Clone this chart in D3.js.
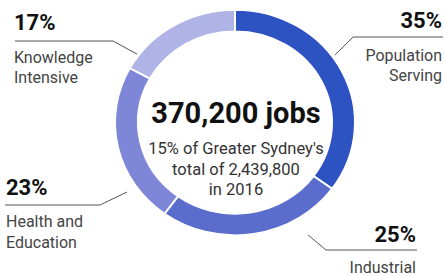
<!DOCTYPE html>
<html>
<head>
<meta charset="utf-8">
<script src="https://cdn.jsdelivr.net/npm/d3@7"></script>
<style>
html,body{margin:0;padding:0;background:#fff;}
svg{display:block;font-family:Roboto, "Noto Sans", sans-serif;}
</style>
</head>
<body>
<svg id="chart" width="445" height="276"></svg>
<script>
const categories = ["Population Serving", "Industrial", "Health and Education", "Knowledge Intensive"];
const values = [35, 25, 23, 17];
const labelLines = [["Population", "Serving"], ["Industrial"], ["Health and", "Education"], ["Knowledge", "Intensive"]];
const colors = ["#2d52c2", "#5a6ccc", "#7d86d7", "#afb3e5"];
const centerTitle = "370,200 jobs";
const centerLines = ["15% of Greater Sydney's", "total of 2,439,800", "in 2016"];

const svg = d3.select("#chart");
const cx = 235, cy = 122.5, R = 120, r = 97, yScale = 0.94;

const pie = d3.pie().sort(null).value(d => d);
const arc = d3.arc().innerRadius(r).outerRadius(R);
const arcs = pie(values);

const g = svg.append("g").attr("transform", `translate(${cx},${cy}) scale(1,${yScale})`);
g.selectAll("path").data(arcs).join("path")
  .attr("d", arc)
  .attr("fill", (d, i) => colors[i])
  .attr("stroke", "#fff").attr("stroke-width", 2);

// center text
svg.append("text").attr("x", 236).attr("y", 123).attr("text-anchor", "middle")
  .attr("font-size", 29).attr("font-weight", 700).attr("fill", "#111")
  .text(centerTitle);
centerLines.forEach((t, i) => {
  svg.append("text").attr("x", 236).attr("y", 154 + i * 20.5).attr("text-anchor", "middle")
    .attr("font-size", 16.5).attr("fill", "#333").text(t);
});

// label layout: leader tip (angle in degrees clockwise from top, radius), elbow and line end
const layout = [
  {anchor: "end", x: 442, pctY: 28, tipA: 54.3, tipR: 123, lineY: 37, elbowX: 353, endX: 443, lab: [61, 81]},
  {anchor: "end", x: 416, pctY: 242, tipA: 148.6, tipR: 140, lineY: 250, elbowX: 326, endX: 417, lab: [273]},
  {anchor: "start", x: 6, pctY: 195, tipA: 235.6, tipR: 131, lineY: 205, elbowX: 100, endX: 5, lab: [227, 248]},
  {anchor: "start", x: 14, pctY: 30, tipA: 306.6, tipR: 122, lineY: 41, elbowX: 113, endX: 15, lab: [63, 83]}
];
arcs.forEach((a, i) => {
  const L = layout[i];
  const ang = L.tipA * Math.PI / 180;
  const tx = cx + L.tipR * Math.sin(ang), ty = cy - L.tipR * yScale * Math.cos(ang);
  svg.append("path")
    .attr("d", d3.line()([[tx, ty], [L.elbowX, L.lineY], [L.endX, L.lineY]]))
    .attr("fill", "none").attr("stroke", "#555").attr("stroke-width", 1);
  svg.append("text").attr("x", L.x).attr("y", L.pctY).attr("text-anchor", L.anchor)
    .attr("font-size", 22).attr("font-weight", 700).attr("fill", "#111")
    .text(values[i] + "%");
  labelLines[i].forEach((t, j) => {
    svg.append("text").attr("x", L.x).attr("y", L.lab[j]).attr("text-anchor", L.anchor)
      .attr("font-size", 16).attr("fill", "#444").text(t);
  });
});
</script>
</body>
</html>
